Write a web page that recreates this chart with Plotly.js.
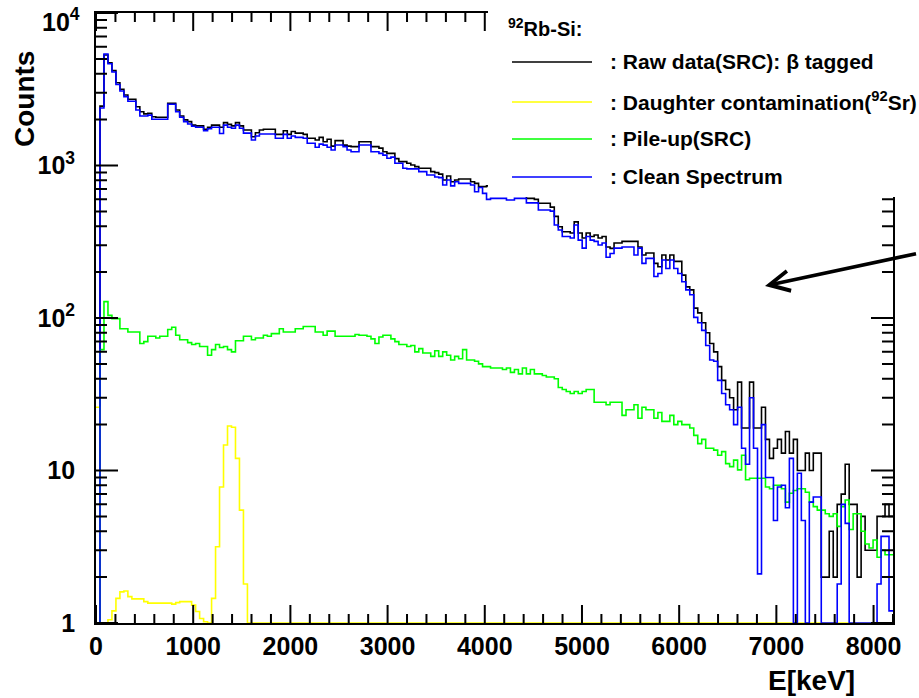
<!DOCTYPE html>
<html>
<head>
<meta charset="utf-8">
<script src="https://cdn.plot.ly/plotly-3.0.1.min.js"></script>
<style>
html,body{margin:0;padding:0;background:#ffffff;}
#chart{width:919px;height:698px;}
</style>
</head>
<body>
<div id="chart"></div>
<script>
// ---------------- data ----------------
const energyMin = 0;      // keV
const energyMax = 8200;   // keV
const nBins = 200;

// Raw data (SRC): beta tagged  (counts per bin)
const rawData = [
  0, 2450, 5305, 4720, 4190, 3490, 3160, 2900, 2720, 2720,
  2430, 2250, 2180, 2200, 2090, 2070, 2070, 2070, 2560, 2560,
  2310, 2110, 1990, 1940, 1840, 1820, 1820, 1730, 1780, 1840,
  1840, 1780, 1910, 1860, 1820, 1910, 1820, 1710, 1710, 1545,
  1640, 1710, 1730, 1730, 1730, 1600, 1600, 1690, 1600, 1670,
  1630, 1630, 1600, 1510, 1510, 1470, 1530, 1430, 1485, 1340,
  1455, 1455, 1360, 1340, 1330, 1330, 1430, 1430, 1430, 1330,
  1330, 1300, 1230, 1200, 1200, 1110, 1060, 1060, 1035, 1007,
  983, 960, 960, 960, 912, 898, 878, 803, 853, 783,
  803, 815, 815, 815, 783, 764, 727, 727, 735, 650,
  650, 645, 650, 640, 630, 640, 645, 630, 609, 609,
  600, 565, 565, 565, 533, 464, 397, 368, 368, 361,
  427, 361, 335, 361, 342, 350, 335, 342, 292, 286,
  310, 310, 318, 318, 318, 318, 292, 259, 267, 267,
  228, 217, 259, 240, 259, 235, 235, 191, 160, 153,
  116, 108, 93, 80, 68, 60, 48, 39, 34, 30,
  25, 38, 19, 19, 38, 19, 19, 26, 16, 12,
  14, 16, 13, 18, 13, 16, 10, 10, 13, 10,
  13, 13, 2, 2, 4, 2, 6, 7, 11, 6,
  6, 2, 5, 3, 3, 3, 5, 5, 6, 5
];

// Daughter contamination (92Sr)
const daughter = [
  26, 0, 0, 1.05, 1.2, 1.45, 1.6, 1.62, 1.49, 1.44,
  1.44, 1.44, 1.38, 1.35, 1.35, 1.35, 1.35, 1.35, 1.35, 1.33,
  1.36, 1.38, 1.38, 1.38, 1.31, 1.19, 1.07, 1.02, 0, 1.45,
  3.16, 7.8, 14.7, 19.6, 19.2, 12, 5.5, 1.8, 0, 0,
  0, 0, 0, 0, 0, 0, 0, 0, 0, 0,
  0, 0, 0, 0, 0, 0, 0, 0, 0, 0,
  0, 0, 0, 0, 0, 0, 0, 0, 0, 0,
  0, 0, 0, 0, 0, 0, 0, 0, 0, 0,
  0, 0, 0, 0, 0, 0, 0, 0, 0, 0,
  0, 0, 0, 0, 0, 0, 0, 0, 0, 0,
  0, 0, 0, 0, 0, 0, 0, 0, 0, 0,
  0, 0, 0, 0, 0, 0, 0, 0, 0, 0,
  0, 0, 0, 0, 0, 0, 0, 0, 0, 0,
  0, 0, 0, 0, 0, 0, 0, 0, 0, 0,
  0, 0, 0, 0, 0, 0, 0, 0, 0, 0,
  0, 0, 0, 0, 0, 0, 0, 0, 0, 0,
  0, 0, 0, 0, 0, 0, 0, 0, 0, 0,
  0, 0, 0, 0, 0, 0, 0, 0, 0, 0,
  0, 0, 0, 0, 0, 0, 0, 0, 0, 0,
  0, 0, 0, 0, 0, 0, 0, 0, 0, 0
];

// Pile-up (SRC)
const pileUp = [
  0, 62, 128, 104, 99, 99, 85, 85, 81, 81,
  81, 68, 70, 76, 76, 74, 76, 76, 84, 87,
  77, 72, 72, 69, 67, 68, 65, 65, 57, 62,
  67, 64, 65, 62, 60, 71, 71, 76, 76, 72,
  74, 74, 77, 76, 79, 79, 85, 81, 81, 81,
  85, 85, 88, 88, 88, 81, 81, 77, 82, 82,
  76, 76, 76, 76, 76, 78, 77, 77, 76, 73,
  68, 75, 77, 77, 73, 70, 67, 67, 65, 66,
  60, 63, 59, 59, 56, 61, 56, 60, 57, 53,
  56, 54, 62, 53, 53, 52, 50, 48, 48, 47,
  47, 47, 46, 47, 44, 46, 43, 47, 43, 46,
  43, 43, 42, 41, 41, 40, 35, 34, 33, 32,
  33, 32, 33, 34, 34, 28, 28, 28, 27, 28,
  28, 28, 23, 25, 25, 27, 22, 26, 25, 25,
  22, 24, 21, 21, 23, 20, 21, 20, 20, 19,
  17, 15, 16, 14, 14, 13.6, 12.6, 13.3, 11.1, 10.6,
  11.7, 10.1, 12.6, 8.7, 8.9, 8.9, 8.9, 8.9, 7.8, 7.6,
  8.0, 8.0, 7.6, 6.2, 7.1, 7.4, 7.6, 7.6, 7.2, 6.2,
  5.8, 5.5, 5.5, 5.2, 5.0, 5.2, 4.3, 5.8, 6.4, 4.1,
  5.2, 5.2, 4.0, 3.3, 3.1, 3.5, 2.7, 3.0, 2.8, 2.8
];

// Clean spectrum
const clean = [
  0, 2380, 5385, 4650, 4100, 3400, 3080, 2830, 2640, 2640,
  2310, 2110, 2110, 2140, 2010, 2010, 2010, 2010, 2520, 2520,
  2250, 2070, 1940, 1870, 1810, 1780, 1780, 1690, 1740, 1780,
  1780, 1620, 1840, 1780, 1755, 1840, 1755, 1630, 1630, 1470,
  1560, 1610, 1610, 1610, 1610, 1510, 1510, 1600, 1510, 1560,
  1530, 1530, 1510, 1400, 1400, 1316, 1380, 1360, 1316, 1264,
  1363, 1363, 1330, 1264, 1230, 1230, 1363, 1363, 1363, 1230,
  1230, 1200, 1170, 1115, 1135, 1035, 1035, 960, 950, 950,
  950, 912, 912, 866, 866, 840, 833, 745, 803, 735,
  783, 764, 764, 764, 745, 673, 718, 656, 600, 609,
  609, 609, 609, 594, 594, 609, 609, 609, 569, 569,
  569, 511, 511, 511, 502, 407, 378, 342, 342, 335,
  407, 324, 287, 342, 324, 318, 301, 310, 250, 265,
  287, 287, 292, 292, 292, 259, 287, 228, 246, 246,
  187, 196, 240, 211, 240, 211, 196, 173, 153, 142,
  101, 93, 83, 66, 53, 52, 39, 32, 27, 25,
  20, 26, 14, 11, 30, 14, 2.1, 20, 9, 9,
  4.7, 7.8, 8, 5.7, 12, 0, 9.6, 4.7, 0, 6.2,
  6.7, 6.7, 0, 0, 0, 0, 1.8, 6, 4.5, 0,
  0, 0, 0, 0, 0, 0, 1.8, 3.7, 3.7, 1.2
];

const seriesNames = [
  ': Raw data(SRC): \u03b2 tagged',
  ': Daughter contamination(<sup>92</sup>Sr)',
  ': Pile-up(SRC)',
  ': Clean Spectrum'
];
const seriesColors = ['#000000', '#ffff00', '#00ff00', '#0000ff'];
const legendHeader = '<sup>92</sup>Rb-Si:';

const xTickVals = [0, 1000, 2000, 3000, 4000, 5000, 6000, 7000, 8000];
const yTickVals = [1, 10, 100, 1000, 10000];
const yTickText = ['1', '10', '10<sup>2</sup>', '10<sup>3</sup>', '10<sup>4</sup>'];
const xTitle = 'E[keV]';
const yTitle = 'Counts';

// ---------------- build the chart ----------------
const FONT = 'Liberation Sans, Arial, Helvetica, sans-serif';
const yFloor = yTickVals[0];                       // ROOT draws empty bins on the frame minimum
const yRange = [0, 4];                             // log10 range
const binW = (energyMax - energyMin) / nBins;
const edges = Array.from({length: nBins + 1}, (_, i) => energyMin + i * binW);

function histTrace(counts, color, name) {
  const y = counts.map(v => Math.max(v, yFloor));
  y.push(y[y.length - 1]);
  return {
    type: 'scatter', mode: 'lines', x: edges, y: y, name: name,
    line: {shape: 'hv', color: color, width: 1.6},
    hoverinfo: 'skip', showlegend: false
  };
}

const traces = [
  histTrace(rawData, seriesColors[0], seriesNames[0]),
  histTrace(daughter, seriesColors[1], seriesNames[1]),
  histTrace(pileUp, seriesColors[2], seriesNames[2]),
  histTrace(clean, seriesColors[3], seriesNames[3])
];

// plot frame in pixels
const L = 96, R = 893, T = 13, B = 623, W = 919, H = 698;
const px = x => (x - L) / (R - L);
const py = y => (B - y) / (B - T);
const PAD = '\u00a0\u00a0';  // keeps the y labels away from the frame, as ROOT does

// ---- ROOT-style tick marks on all four sides of the frame ----
const xMinorStep = 200;
const xMinorVals = [];
for (let v = energyMin; v <= energyMax; v += xMinorStep) if (!xTickVals.includes(v)) xMinorVals.push(v);
const yMinorVals = [];
for (let d = yRange[0]; d < yRange[1]; d++) for (let k = 2; k <= 9; k++) yMinorVals.push(k * Math.pow(10, d));
const yFrac = v => (Math.log10(v) - yRange[0]) / (yRange[1] - yRange[0]);

const X_MAJ = 18 / (B - T), X_MIN = 9 / (B - T);   // x tick lengths (paper units)
const Y_MAJ = 22 / (R - L), Y_MIN = 11 / (R - L);  // y tick lengths (paper units)
let xTickPath = '';
xTickVals.forEach(v => { xTickPath += `M${v},0V${X_MAJ}M${v},1V${1 - X_MAJ}`; });
xMinorVals.forEach(v => { xTickPath += `M${v},0V${X_MIN}M${v},1V${1 - X_MIN}`; });
let yTickPath = '';
yTickVals.forEach(v => { const f = yFrac(v); yTickPath += `M0,${f}H${Y_MAJ}M1,${f}H${1 - Y_MAJ}`; });
yMinorVals.forEach(v => { const f = yFrac(v); yTickPath += `M0,${f}H${Y_MIN}M1,${f}H${1 - Y_MIN}`; });

const shapes = [
  {type: 'path', xref: 'x', yref: 'paper', path: xTickPath, line: {color: '#000', width: 2}, layer: 'above'},
  {type: 'path', xref: 'paper', yref: 'paper', path: yTickPath, line: {color: '#000', width: 2}, layer: 'above'},
  // legend box (white, no border) sits over the frame, as in the original
  {type: 'rect', xref: 'paper', yref: 'paper', x0: px(488), x1: px(W + 5), y0: py(197), y1: py(-5),
   fillcolor: '#ffffff', line: {width: 0}, layer: 'above'}
];
const legendY = [61, 101, 138, 176];
const annotations = [
  {xref: 'paper', yref: 'paper', x: px(506), y: py(27), xanchor: 'left', yanchor: 'middle',
   text: legendHeader, showarrow: false, font: {family: FONT, size: 20, color: '#000', weight: 'bold'}}
];
legendY.forEach((yy, i) => {
  shapes.push({type: 'line', xref: 'paper', yref: 'paper', x0: px(512), x1: px(592), y0: py(yy + 1), y1: py(yy + 1),
               line: {color: seriesColors[i], width: 1.6}, layer: 'above'});
  annotations.push({xref: 'paper', yref: 'paper', x: px(608), y: py(yy), xanchor: 'left', yanchor: 'middle',
                    text: seriesNames[i], showarrow: false,
                    font: {family: FONT, size: 21, color: '#000', weight: 'bold'}});
});
// top y label, nudged down inside the page as ROOT does
annotations.push({xref: 'paper', yref: 'paper', x: px(82), y: yFrac(yTickVals[4]), yshift: -7,
  xanchor: 'right', yanchor: 'middle', text: yTickText[4], showarrow: false,
  font: {family: FONT, size: 25, color: '#000', weight: 'bold'}});
// axis titles (ROOT style: aligned to the axis ends)
annotations.push({xref: 'paper', yref: 'paper', x: px(24), y: py(99), xanchor: 'center', yanchor: 'middle',
  text: yTitle, textangle: -90, showarrow: false, font: {family: FONT, size: 28, color: '#000', weight: 'bold'}});
annotations.push({xref: 'paper', yref: 'paper', x: px(857), y: py(680), xanchor: 'right', yanchor: 'middle',
  text: xTitle, showarrow: false, font: {family: FONT, size: 28, color: '#000', weight: 'bold'}});
// pointing arrow
annotations.push({xref: 'paper', yref: 'paper', x: px(765), y: py(286), ax: 154, ay: -33, text: ' ',
  showarrow: true, arrowhead: 5, arrowsize: 1.1, arrowwidth: 3.6, arrowcolor: '#000'});

const axisCommon = {
  showgrid: false, zeroline: false, showline: true, linecolor: '#000', linewidth: 2,
  mirror: true, ticks: '',
  tickfont: {family: FONT, size: 25, color: '#000', weight: 'bold'},
  fixedrange: true
};

const layout = {
  width: W, height: H,
  margin: {l: L, r: W - R, t: T, b: H - B, pad: 0},
  paper_bgcolor: '#ffffff', plot_bgcolor: '#ffffff',
  showlegend: false,
  xaxis: Object.assign({}, axisCommon, {
    type: 'linear', range: [energyMin, energyMax],
    tickmode: 'array', tickvals: xTickVals, ticktext: xTickVals.map(String)
  }),
  yaxis: Object.assign({}, axisCommon, {
    type: 'log', range: yRange,
    tickmode: 'array', tickvals: yTickVals,
    ticktext: yTickText.map((t, i) => (i === 4 ? '' : t + PAD))
  }),
  shapes: shapes,
  annotations: annotations
};

Plotly.newPlot('chart', traces, layout, {displayModeBar: false, staticPlot: true});
</script>
</body>
</html>
